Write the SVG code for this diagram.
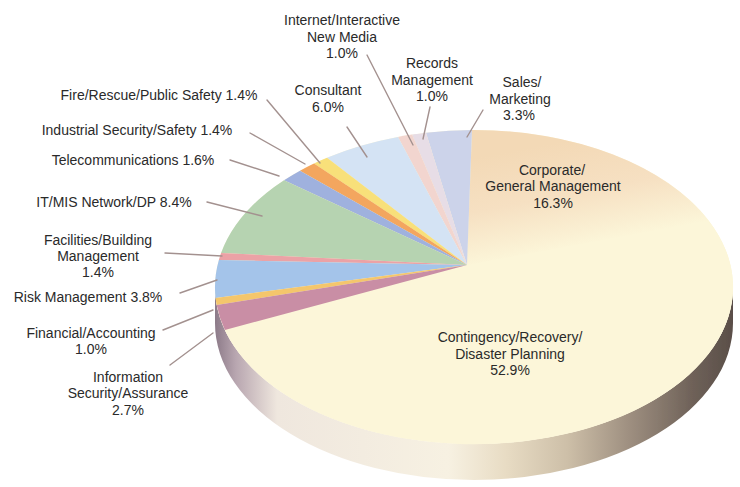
<svg xmlns="http://www.w3.org/2000/svg" width="740" height="487" viewBox="0 0 740 487">
<style>
text{font-family:"Liberation Sans",Arial,sans-serif;font-size:14px;fill:#2a2a2a;text-anchor:middle}
.lead{stroke:#a3918f;stroke-width:1.4;fill:none;stroke-linecap:round}
.sl{stroke:none}
</style>
<defs>
<linearGradient id="side" gradientUnits="userSpaceOnUse" x1="215" y1="0" x2="733" y2="0">
<stop offset="0" stop-color="#8c7a88"/>
<stop offset="0.04" stop-color="#b8a6b0"/>
<stop offset="0.12" stop-color="#efe7de"/>
<stop offset="0.45" stop-color="#f7f1e2"/>
<stop offset="0.56" stop-color="#e8dcc4"/>
<stop offset="0.68" stop-color="#cdbfa8"/>
<stop offset="0.8" stop-color="#9e8f80"/>
<stop offset="0.92" stop-color="#6f6259"/>
<stop offset="1" stop-color="#5a4e48"/>
</linearGradient>
<linearGradient id="corp" gradientUnits="userSpaceOnUse" x1="570" y1="140" x2="590" y2="244">
<stop offset="0" stop-color="#f3d9b6"/>
<stop offset="0.5" stop-color="#f6e0c2"/>
<stop offset="0.85" stop-color="#faefd2"/>
<stop offset="1" stop-color="#fcf6d9"/>
</linearGradient>
<filter id="soft" x="-5%" y="-5%" width="110%" height="110%"><feGaussianBlur stdDeviation="0.7"/></filter>
</defs>
<rect width="740" height="487" fill="#ffffff"/>
<g id="pie" filter="url(#soft)">
<path id="side-band" d="M215,287 A259,157 0 0 0 733,287 L733,323 A259,157 0 0 1 215,323 Z" fill="url(#side)"/>
<ellipse cx="474" cy="287" rx="259" ry="157" fill="#fcf6d9"/>
<g id="contingency"><path class="sl" d="M467,265 L708.7,220.7 A259,157 0 1 1 224.9,330 Z" fill="#fcf6d9"/></g>
<g id="corporate"><path class="sl" d="M467,265 L472,130 A259,157 0 0 1 708.7,220.7 Z" fill="url(#corp)"/></g>
<g id="sales"><path class="sl" d="M467,265 L426,132.7 A259,157 0 0 1 472,130 Z" fill="#ccd3ea"/></g>
<g id="records"><path class="sl" d="M467,265 L412,134.6 A259,157 0 0 1 426,132.7 Z" fill="#e7dde6"/></g>
<g id="internet"><path class="sl" d="M467,265 L398,136.9 A259,157 0 0 1 412,134.6 Z" fill="#f2d5cf"/></g>
<g id="consultant"><path class="sl" d="M467,265 L327,157.7 A259,157 0 0 1 398,136.9 Z" fill="#d4e3f4"/></g>
<g id="fire"><path class="sl" d="M467,265 L314,163.5 A259,157 0 0 1 327,157.7 Z" fill="#f8e07a"/></g>
<g id="industrial"><path class="sl" d="M467,265 L300,170.7 A259,157 0 0 1 314,163.5 Z" fill="#f3a65e"/></g>
<g id="telecom"><path class="sl" d="M467,265 L284,180.3 A259,157 0 0 1 300,170.7 Z" fill="#9fb1de"/></g>
<g id="itmis"><path class="sl" d="M467,265 L221.1,253 A259,157 0 0 1 284,180.3 Z" fill="#b6d3b1"/></g>
<g id="facilities"><path class="sl" d="M467,265 L218.9,260 A259,157 0 0 1 221.1,253 Z" fill="#eba2a6"/></g>
<g id="risk"><path class="sl" d="M467,265 L215.6,298 A259,157 0 0 1 218.9,260 Z" fill="#a4c4ea"/></g>
<g id="financial"><path class="sl" d="M467,265 L216.7,305 A259,157 0 0 1 215.6,298 Z" fill="#f4c66c"/></g>
<g id="infosec"><path class="sl" d="M467,265 L224.9,330 A259,157 0 0 1 216.7,305 Z" fill="#c98ea5"/></g>
</g>
<g id="connectors">
<line class="lead" x1="367" y1="55" x2="413" y2="145"/>
<line class="lead" x1="430" y1="107" x2="423" y2="139"/>
<line class="lead" x1="483" y1="110" x2="467" y2="137"/>
<line class="lead" x1="347" y1="127" x2="367" y2="157"/>
<line class="lead" x1="267" y1="100" x2="320" y2="163"/>
<line class="lead" x1="250" y1="133" x2="305" y2="164"/>
<line class="lead" x1="230" y1="160" x2="279" y2="176"/>
<line class="lead" x1="207" y1="202" x2="262" y2="216"/>
<line class="lead" x1="165" y1="253" x2="222" y2="256"/>
<line class="lead" x1="180" y1="293" x2="217" y2="280"/>
<line class="lead" x1="163" y1="330" x2="213" y2="310"/>
<line class="lead" x1="170" y1="365" x2="213" y2="333"/>
</g>
<g id="labels">
<g id="lbl-internet"><text x="342" y="25">Internet/Interactive</text><text x="342" y="42">New Media</text><text x="342" y="58">1.0%</text></g>
<g id="lbl-records"><text x="432" y="68">Records</text><text x="432" y="85">Management</text><text x="432" y="101">1.0%</text></g>
<g id="lbl-sales"><text x="522" y="87">Sales/</text><text x="520" y="104">Marketing</text><text x="519" y="120">3.3%</text></g>
<g id="lbl-consultant"><text x="328" y="95">Consultant</text><text x="328" y="112">6.0%</text></g>
<g id="lbl-fire"><text x="159" y="100">Fire/Rescue/Public Safety 1.4%</text></g>
<g id="lbl-industrial"><text x="137" y="135">Industrial Security/Safety 1.4%</text></g>
<g id="lbl-telecom"><text x="133" y="165">Telecommunications 1.6%</text></g>
<g id="lbl-it"><text x="114" y="207">IT/MIS Network/DP 8.4%</text></g>
<g id="lbl-facilities"><text x="98" y="245">Facilities/Building</text><text x="98" y="261">Management</text><text x="98" y="277">1.4%</text></g>
<g id="lbl-risk"><text x="88" y="302">Risk Management 3.8%</text></g>
<g id="lbl-financial"><text x="91" y="338">Financial/Accounting</text><text x="91" y="354">1.0%</text></g>
<g id="lbl-infosec"><text x="128" y="382">Information</text><text x="128" y="398">Security/Assurance</text><text x="128" y="415">2.7%</text></g>
<g id="lbl-corporate"><text x="552" y="175">Corporate/</text><text x="553" y="191">General Management</text><text x="553" y="208">16.3%</text></g>
<g id="lbl-contingency"><text x="510" y="342">Contingency/Recovery/</text><text x="510" y="359">Disaster Planning</text><text x="510" y="375">52.9%</text></g>
</g>
</svg>
